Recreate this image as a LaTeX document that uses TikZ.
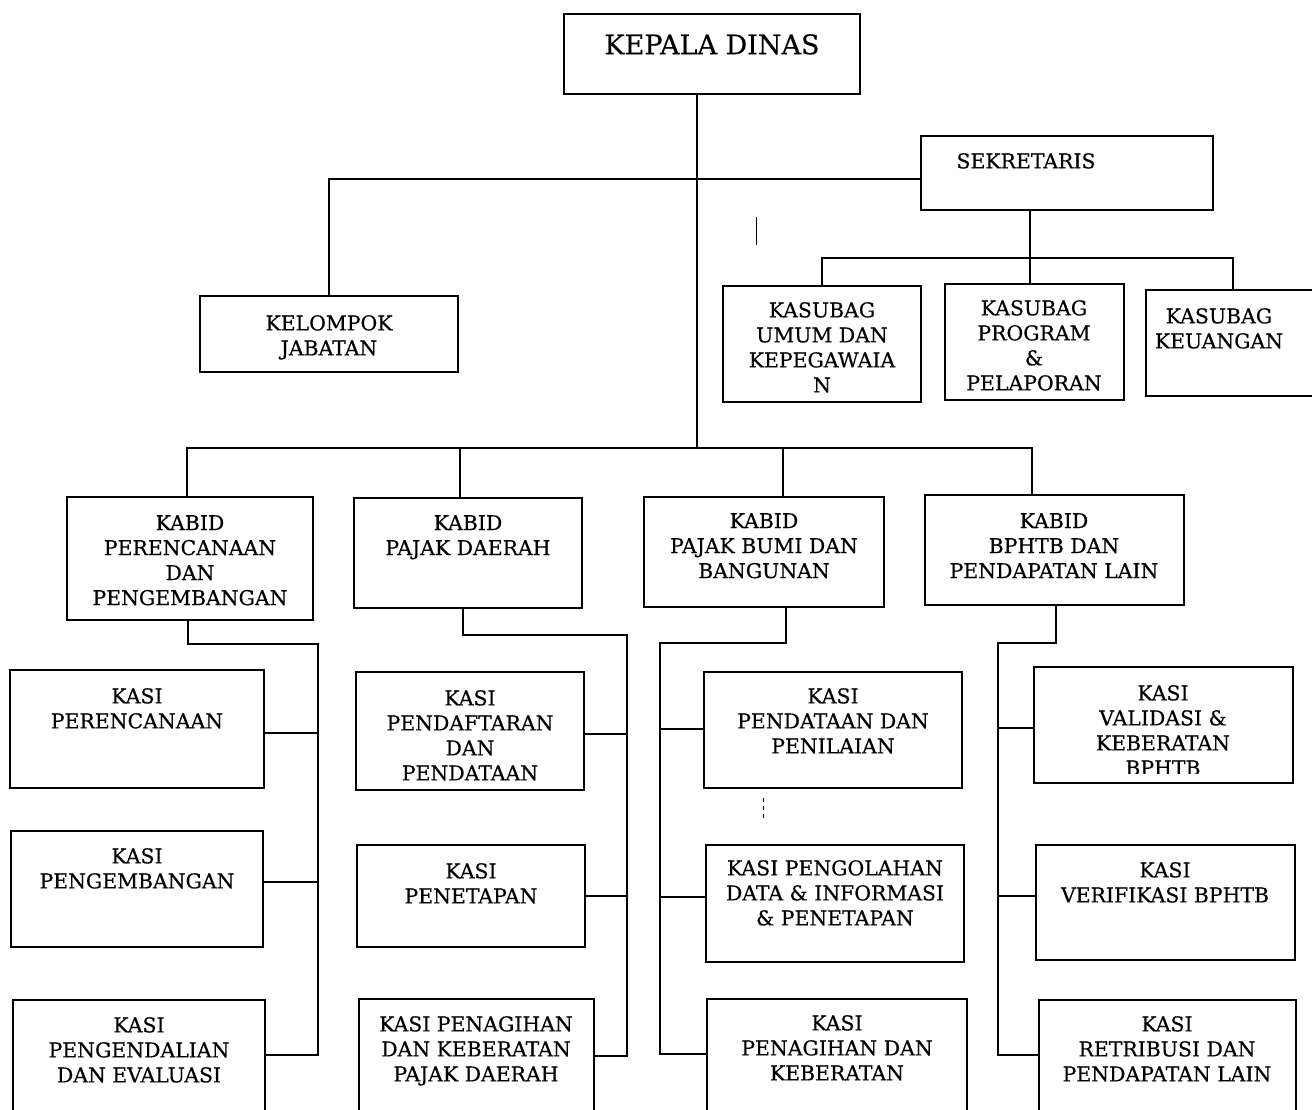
\documentclass[tikz,border=0pt]{standalone}
\usepackage{fontspec}
\setmainfont{DejaVu Serif}
\newfontfamily\lblfont[FakeBold=0.4]{DejaVu Serif}
\usetikzlibrary{fit,calc}
\newcommand\bigf{\fontsize{27}{32}\selectfont}
\tikzset{
  box/.style={draw, line width=2.6pt, inner sep=0pt},
  lbl/.style={align=center, inner sep=0pt, font=\lblfont\fontsize{20.4}{25}\selectfont},
  conn/.style={line width=2.6pt},
  stray/.style={line width=1pt}
}
% #1 name, #2 x1, #3 y1, #4 x2, #5 y2, #6 text centre x, #7 text top y, #8 text
\newcommand\obox[8]{%
  \path (#2,-#3) coordinate (#1nw) (#4,-#5) coordinate (#1se);
  \node[box, fit=(#1nw)(#1se)] (#1) {};
  \node[lbl, anchor=north] (#1t) at (#6,-#7) {#8};
}
\begin{document}
\begin{tikzpicture}[x=1pt,y=1pt]
\fill[white] (0,0) rectangle (1312,-1110);
\clip (0,0) rectangle (1312,-1110);
% top
\obox{kd}{564}{14}{860}{94}{712}{34}{\bigf KEPALA DINAS}
\obox{sek}{921}{136}{1213}{210}{1026}{153}{SEKRETARIS}
\obox{kj}{200}{296}{458}{372}{329}{315}{KELOMPOK\\JABATAN}
\obox{ksa}{723}{286}{921}{402}{822}{302}{KASUBAG\\UMUM DAN\\KEPEGAWAIA\\N}
\obox{ksb}{945}{284}{1124}{400}{1034}{300}{KASUBAG\\PROGRAM\\\&\\PELAPORAN}
\obox{ksc}{1146}{290}{1330}{396}{1219}{308}{KASUBAG\\KEUANGAN}
% kabid
\obox{kba}{67}{497}{313}{620}{190}{515}{KABID\\PERENCANAAN\\DAN\\PENGEMBANGAN}
\obox{kbb}{354}{498}{582}{608}{468}{515}{KABID\\PAJAK DAERAH}
\obox{kbc}{644}{497}{884}{607}{764}{513}{KABID\\PAJAK BUMI DAN\\BANGUNAN}
\obox{kbd}{925}{495}{1184}{605}{1054}{513}{KABID\\BPHTB DAN\\PENDAPATAN LAIN}
% kasi column 1
\obox{kaa}{10}{670}{264}{788}{137}{688}{KASI\\PERENCANAAN}
\obox{kab}{11}{831}{263}{947}{137}{848}{KASI\\PENGEMBANGAN}
\obox{kac}{13}{1000}{265}{1130}{139}{1017}{KASI\\PENGENDALIAN\\DAN EVALUASI}
% column 2
\obox{kba2}{356}{672}{584}{790}{470}{690}{KASI\\PENDAFTARAN\\DAN\\PENDATAAN}
\obox{kbb2}{357}{845}{585}{947}{471}{863}{KASI\\PENETAPAN}
\obox{kbc2}{359}{999}{594}{1130}{476}{1016}{KASI PENAGIHAN\\DAN KEBERATAN\\PAJAK DAERAH}
% column 3
\obox{kca}{704}{672}{962}{788}{833}{688}{KASI\\PENDATAAN DAN\\PENILAIAN}
\obox{kcb}{706}{845}{964}{962}{835}{860}{KASI PENGOLAHAN\\DATA \& INFORMASI\\\& PENETAPAN}
\obox{kcc}{707}{999}{967}{1130}{837}{1015}{KASI\\PENAGIHAN DAN\\KEBERATAN}
% column 4
\path (1034,-667) coordinate (kdanw) (1293,-783) coordinate (kdase);
\node[box, fit=(kdanw)(kdase)] (kda) {};
\begin{scope}
  \clip (1034,-667) rectangle (1293,-773);
  \node[lbl, anchor=north] (kdat) at (1163,-685) {KASI\\VALIDASI \&\\KEBERATAN\\BPHTB};
\end{scope}
\obox{kdb}{1036}{845}{1295}{960}{1165}{862}{KASI\\VERIFIKASI BPHTB}
\obox{kdc}{1039}{1000}{1296}{1130}{1167}{1016}{KASI\\RETRIBUSI DAN\\PENDAPATAN LAIN}
% connectors top
\coordinate (bus0) at (697,-448);
\draw[conn] (kd.south -| bus0) -- (bus0);
\coordinate (sj) at (329,-179);
\draw[conn] (sek.west |- sj) -- (sj) -- (kj.north);
\coordinate (sb) at (1030,-258);
\coordinate (sl) at (822,-258);
\coordinate (sr) at (1233,-258);
\draw[conn] (sek.south -| sb) -- (ksb.north -| sb);
\draw[conn] (ksa.north -| sl) -- (sl) -- (sr) -- (ksc.north -| sr);
% kabid bus
\coordinate (t1) at (187,-448);
\coordinate (t2) at (460,-448);
\coordinate (t3) at (783,-448);
\coordinate (t4) at (1032,-448);
\draw[conn] (kba.north -| t1) -- (t1) -- (t4) -- (kbd.north -| t4);
\draw[conn] (t2) -- (kbb.north -| t2);
\draw[conn] (t3) -- (kbc.north -| t3);
% column 1 tree
\coordinate (a0) at (188,-644);
\coordinate (a1) at (318,-644);
\coordinate (a2) at (318,-733);
\coordinate (a3) at (318,-882);
\coordinate (a4) at (318,-1055);
\draw[conn] (kba.south -| a0) -- (a0) -- (a1) -- (a4) -- (kac.east |- a4);
\draw[conn] (a2) -- (kaa.east |- a2);
\draw[conn] (a3) -- (kab.east |- a3);
% column 2 tree
\coordinate (b0) at (463,-635);
\coordinate (b1) at (627,-635);
\coordinate (b2) at (627,-734);
\coordinate (b3) at (627,-896);
\coordinate (b4) at (627,-1056);
\draw[conn] (kbb.south -| b0) -- (b0) -- (b1) -- (b4) -- (kbc2.east |- b4);
\draw[conn] (b2) -- (kba2.east |- b2);
\draw[conn] (b3) -- (kbb2.east |- b3);
% column 3 tree
\coordinate (c0) at (786,-643);
\coordinate (c1) at (660,-643);
\coordinate (c2) at (660,-729);
\coordinate (c3) at (660,-897);
\coordinate (c4) at (660,-1054);
\draw[conn] (kbc.south -| c0) -- (c0) -- (c1) -- (c4) -- (kcc.west |- c4);
\draw[conn] (c2) -- (kca.west |- c2);
\draw[conn] (c3) -- (kcb.west |- c3);
% column 4 tree
\coordinate (d0) at (1056,-643);
\coordinate (d1) at (998,-643);
\coordinate (d2) at (998,-728);
\coordinate (d3) at (998,-896);
\coordinate (d4) at (998,-1055);
\draw[conn] (kbd.south -| d0) -- (d0) -- (d1) -- (d4) -- (kdc.west |- d4);
\draw[conn] (d2) -- (kda.west |- d2);
\draw[conn] (d3) -- (kdb.west |- d3);
% stray marks
\coordinate (s1a) at (756,-217); \coordinate (s1b) at (756,-245);
\draw[stray] (s1a) -- (s1b);
\coordinate (s2a) at (763,-798); \coordinate (s2b) at (763,-820);
\draw[stray, dash pattern=on 4pt off 4pt] (s2a) -- (s2b);
\end{tikzpicture}
\end{document}
